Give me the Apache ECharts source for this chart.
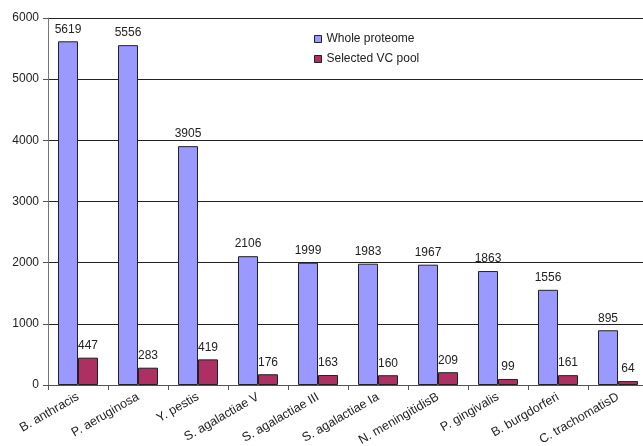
<!DOCTYPE html>
<html><head><meta charset="utf-8">
<script src="https://cdn.jsdelivr.net/npm/echarts@6/dist/echarts.min.js"></script>
<style>html,body{margin:0;padding:0;background:#fff}#c{width:643px;height:446px}</style>
</head><body><div id="c"></div>
<script>
const categories = ["B. anthracis","P. aeruginosa","Y. pestis","S. agalactiae V","S. agalactiae III","S. agalactiae Ia","N. meningitidisB","P. gingivalis","B. burgdorferi","C. trachomatisD"];
const wholeProteome = [5619,5556,3905,2106,1999,1983,1967,1863,1556,895];
const selectedVC = [447,283,419,176,163,160,209,99,161,64];
const yTicks = {min:0,max:6000,interval:1000};

const font = "'Liberation Sans', Arial, sans-serif";
const chart = echarts.init(document.getElementById('c'), null, {renderer:'canvas'});
chart.setOption({
  animation:false,
  backgroundColor:'#fff',
  grid:{left:48, top:18, width:600, height:367, containLabel:false, outerBoundsMode:'none'},
  legend:{
    orient:'vertical', left:314, top:32, padding:0, itemWidth:7, itemHeight:7, itemGap:6,
    icon:'rect',
    itemStyle:{borderColor:'#222', borderWidth:1},
    textStyle:{fontFamily:font, fontSize:12, color:'#222', lineHeight:14},
    data:['Whole proteome','Selected VC pool']
  },
  xAxis:{
    type:'category', data:categories,
    axisLine:{lineStyle:{color:'#555', width:1}},
    axisTick:{show:true, alignWithLabel:false, length:5, lineStyle:{color:'#555'}},
    axisLabel:{rotate:30, margin:11, interval:0, fontFamily:font, fontSize:12.5, color:'#222'}
  },
  yAxis:{
    type:'value', min:yTicks.min, max:yTicks.max, interval:yTicks.interval,
    axisLine:{show:true, lineStyle:{color:'#777'}},
    axisTick:{show:true, length:5, lineStyle:{color:'#555'}},
    splitLine:{lineStyle:{color:'#222', width:1}},
    axisLabel:{fontFamily:font, fontSize:12, color:'#222', margin:9, formatter:v=>String(v)}
  },
  series:[
    {name:'Whole proteome', type:'bar', data:wholeProteome, barWidth:20, barGap:'0%',
     itemStyle:{color:'#9999FF', borderColor:'#222', borderWidth:1},
     label:{show:true, position:'top', distance:6, fontFamily:font, fontSize:12, color:'#222'}},
    {name:'Selected VC pool', type:'bar', data:selectedVC, barWidth:20, barGap:'0%',
     itemStyle:{color:'#AE3062', borderColor:'#222', borderWidth:1},
     label:{show:true, position:'top', distance:6, fontFamily:font, fontSize:12, color:'#222'}}
  ]
});
</script></body></html>
